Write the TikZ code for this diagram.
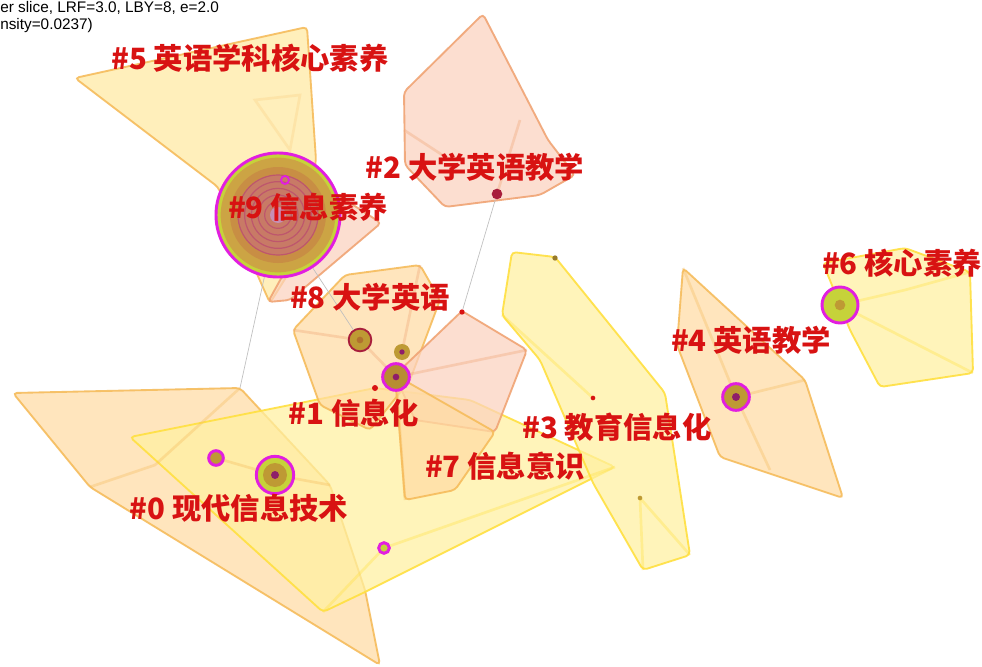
\documentclass[tikz,border=0pt]{standalone}
\usepackage{fontspec}
\setmainfont{Liberation Sans}
\newfontfamily\cjk{Noto Sans CJK SC}
\usetikzlibrary{positioning}

\definecolor{yelfill}{HTML}{FFF1A0}
\definecolor{yeledge}{HTML}{FFE040}
\definecolor{orafill}{HTML}{FFDCA4}
\definecolor{oraedge}{HTML}{F6BC5C}
\definecolor{pinkfill}{HTML}{FCD2BE}
\definecolor{pinkedge}{HTML}{F0A474}
\definecolor{labred}{HTML}{D81212}
\definecolor{ringmag}{HTML}{E21EE0}
\definecolor{ringgrn}{HTML}{C6D23A}
\definecolor{ringolv}{HTML}{BE9A34}
\definecolor{ringgld}{HTML}{CCA444}
\definecolor{ringorg}{HTML}{C88E44}
\definecolor{ringbrn}{HTML}{B0702E}
\definecolor{ringrose}{HTML}{C87A66}
\definecolor{ringred}{HTML}{A81E3C}
\definecolor{ringpur}{HTML}{8E1E6A}

\tikzset{
  hull/.style={rounded corners=3pt, line width=1.4pt, fill opacity=0.72, draw opacity=0.9},
  yhull/.style={hull, fill=yelfill, draw=yeledge},
  ohull/.style={hull, fill=orafill, draw=oraedge},
  phull/.style={hull, fill=pinkfill, draw=pinkedge},
  tree/.style={line width=2pt, opacity=0.35},
  link/.style={draw=black!25, line width=0.5pt},
  cit/.style={circle, inner sep=0pt, draw=ringmag, line width=2.2pt, fill=ringgrn},
  dot/.style={circle, inner sep=0pt, fill=#1},
  label/.style={text=labred, font=\cjk\bfseries\fontsize{22}{24}\selectfont, inner sep=1pt}
}

\begin{document}
\begin{tikzpicture}[x=0.75pt, y=-0.75pt]
\useasboundingbox (0,0) rectangle (982,667);
\fill[white] (0,0) rectangle (982,667);

% cluster hulls
\draw[ohull] (13,393) -- (240,388) -- (330,485) -- (365,590) -- (380,665) -- (90,487) -- cycle;
\draw[yhull] (130,437) -- (375,388) -- (470,400) -- (615,467) -- (365,592) -- (323,612) -- cycle;
\draw[yhull] (512,252) -- (555,257) -- (665,393) -- (690,555) -- (643,570) -- (593,483) -- (540,360) -- (502,315) -- cycle;
\draw[ohull] (293,330) -- (345,275) -- (420,265) -- (440,300) -- (410,380) -- (370,430) -- (320,405) -- cycle;
\draw[phull] (462,311) -- (527,350) -- (495,432) -- (415,420) -- (395,375) -- cycle;
\draw[ohull] (395,375) -- (495,432) -- (455,490) -- (405,500) -- cycle;
\draw[ohull, fill=yelfill!60!orafill] (75,78) -- (307,27) -- (316,160) -- (300,255) -- (270,303) -- (218,187) -- cycle;
\draw[phull] (330,190) -- (381,223) -- (290,300) -- (268,302) -- cycle;
\draw[phull] (483,14) -- (548,140) -- (575,175) -- (540,195) -- (445,207) -- (405,165) -- (404,92) -- cycle;
\draw[ohull] (683,268) -- (805,380) -- (843,498) -- (720,457) -- (677,345) -- cycle;
\draw[yhull] (823,263) -- (905,248) -- (970,272) -- (973,373) -- (880,387) -- (850,330) -- cycle;

% spanning lines inside hulls
\draw[tree, draw=oraedge] (240,388) -- (155,465) -- (90,487);
\draw[tree, draw=oraedge] (330,485) -- (275,475) -- (216,458);
\draw[tree, draw=yeledge] (384,548) -- (323,612);
\draw[tree, draw=yeledge] (384,548) -- (615,467);
\draw[tree, draw=yeledge] (593,398) -- (502,315);
\draw[tree, draw=yeledge] (640,498) -- (690,555);
\draw[tree, draw=yeledge] (640,498) -- (643,570);
\draw[tree, draw=pinkedge] (293,330) -- (360,340) -- (396,377);
\draw[tree, draw=pinkedge] (420,265) -- (402,352);
\draw[tree, draw=pinkedge] (396,377) -- (527,350);
\draw[tree, draw=oraedge] (396,377) -- (405,500);
\draw[tree, draw=pinkedge] (497,194) -- (520,120);
\draw[tree, draw=pinkedge] (404,130) -- (450,160);
\draw[tree, draw=oraedge] (736,397) -- (683,268);
\draw[tree, draw=oraedge] (736,397) -- (805,380);
\draw[tree, draw=oraedge] (736,397) -- (770,470);
\draw[tree, draw=yeledge] (840,305) -- (905,290) -- (970,272);
\draw[tree, draw=yeledge] (840,305) -- (973,373);
\draw[tree, draw=oraedge, opacity=0.2] (255,100) -- (300,95) -- (290,150) -- cycle;

% citation nodes
\node[cit, minimum size=93pt] (k9) at (278,215) {};
\fill[ringgld] (k9.center) circle (43pt);
\fill[ringorg] (k9.center) circle (36pt);
\fill[ringrose] (k9.center) circle (30pt);
\foreach \r in {30,25,20,15,10} \draw[ringred!75!white, line width=0.9pt] (k9.center) circle (\r pt);
\fill[ringpur!50!white] (k9.center) circle (6pt);
\node[circle, draw=ringmag, line width=1.4pt, minimum size=6pt, inner sep=0pt] (k9b) at (285,180) {};

\node[cit, minimum size=28pt] (k0) at (275,475) {};
\fill[ringolv] (k0.center) circle (9pt);
\fill[ringpur] (k0.center) circle (3pt);
\node[cit, minimum size=11pt, fill=ringolv] (k0b) at (216,458) {};
\node[cit, minimum size=8pt] (k1b) at (384,548) {};

\node[cit, minimum size=20pt, fill=ringbrn!70!ringgrn] (k1) at (396,377) {};
\fill[ringpur] (k1.center) circle (2.5pt);
\node[circle, draw=ringred, line width=1.4pt, fill=ringolv, minimum size=17pt, inner sep=0pt] (k8) at (360,340) {};
\fill[ringbrn] (k8.center) circle (2.5pt);
\node[circle, fill=ringolv, minimum size=12pt, inner sep=0pt] (k8b) at (402,352) {};
\fill[ringpur] (k8b.center) circle (2pt);

\node[cit, minimum size=20pt, fill=ringolv] (k4) at (736,397) {};
\fill[ringpur] (k4.center) circle (3pt);
\node[cit, minimum size=27pt, fill=ringgrn] (k6) at (840,305) {};
\fill[ringolv] (k6.center) circle (4pt);

\node[dot=ringred, minimum size=8pt] (k2) at (497,194) {};
\node[dot=labred, minimum size=4pt] (k7) at (462,312) {};
\node[dot=labred, minimum size=4.5pt] (k1c) at (375,388) {};
\node[dot=ringolv!80!black, minimum size=4pt] (k3a) at (555,258) {};
\node[dot=labred, minimum size=3.5pt] (k3) at (593,398) {};
\node[dot=ringolv, minimum size=3.5pt] (k3b) at (640,498) {};
\coordinate (c0) at (240,388);

% links between clusters
\draw[link] (c0) -- (k9);
\draw[link] (k2) -- (k7);
\draw[link] (k9) -- (k8);

% cluster labels
\node[label] (l5) at (250,58) {\#5 英语学科核心素养};
\node[label] (l2) at (475,167) {\#2 大学英语教学};
\node[label] (l9) at (308,207) {\#9 信息素养};
\node[label] (l8) at (370,297) {\#8 大学英语};
\node[label] (l6) at (902,263) {\#6 核心素养};
\node[label] (l4) at (751,340) {\#4 英语教学};
\node[label] (l1) at (354,413) {\#1 信息化};
\node[label] (l3) at (617,427) {\#3 教育信息化};
\node[label] (l7) at (505,466) {\#7 信息意识};
\node[label] (l0) at (239,508) {\#0 现代信息技术};

% header text
\node[anchor=north west, align=left, inner sep=0pt, font=\fontsize{11.5}{12.5}\selectfont] (head) at (0,1) {er slice, LRF=3.0, LBY=8, e=2.0\\nsity=0.0237)};
\end{tikzpicture}
\end{document}
